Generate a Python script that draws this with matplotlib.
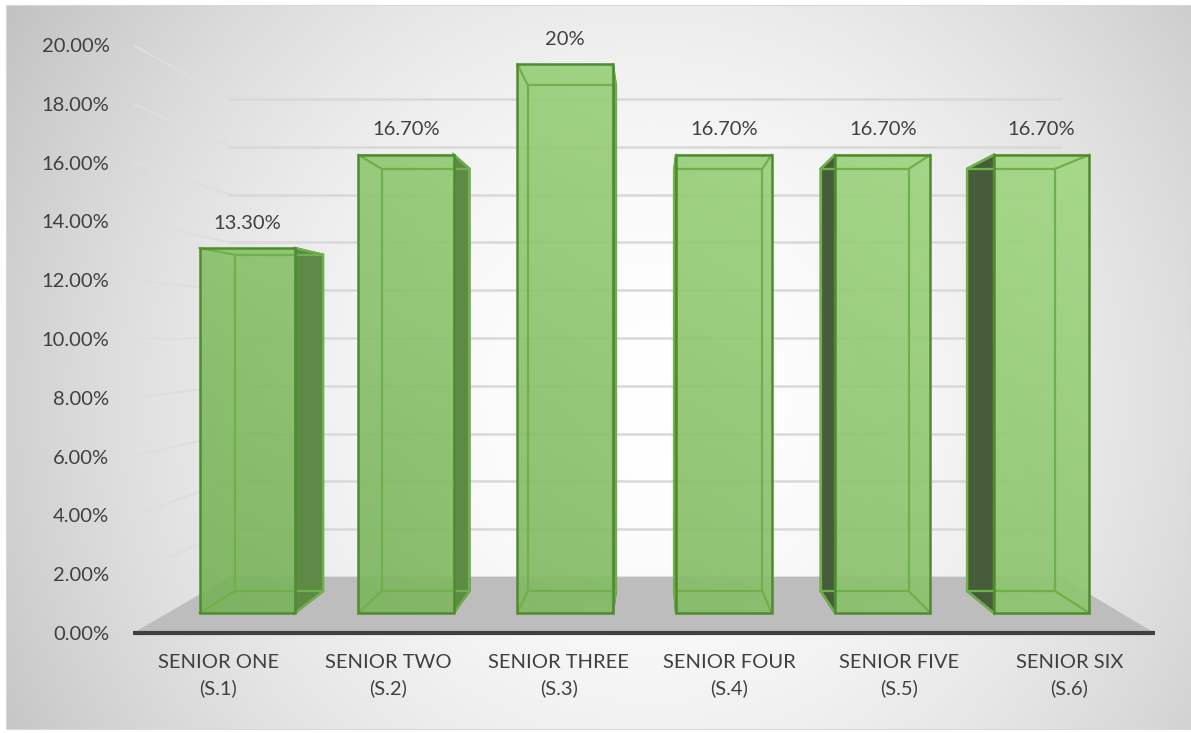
import numpy as np
import matplotlib.pyplot as plt
from matplotlib.patches import Polygon

categories = ["SENIOR ONE\n(S.1)", "SENIOR TWO\n(S.2)", "SENIOR THREE\n(S.3)",
              "SENIOR FOUR\n(S.4)", "SENIOR FIVE\n(S.5)", "SENIOR SIX\n(S.6)"]
shares = [13.3, 16.7, 20.0, 16.7, 16.7, 16.7]
share_labels = ["13.30%", "16.70%", "20%", "16.70%", "16.70%", "16.70%"]
y_ticks = [0, 2, 4, 6, 8, 10, 12, 14, 16, 18, 20]

W, H = 1191, 733
plt.rcParams['font.family'] = ['Lato', 'DejaVu Sans']

# perspective: everything recedes towards a vanishing point (data units)
VX, VY = 3.054, 10.19
R_WALL, R_FRONT, R_BACK = 0.813, 0.933, 0.86
BAR_W = 0.6
TEXT = '#404040'
OUTLINE = '#4e8c2f'
INNER = '#6fb04a'
FS = 14.5


def proj(x, y, r):
    return VX + (x - VX) * r, VY + (y - VY) * r


def face_shade(l, r, b, t):
    # lighter towards the upper right, like the lit 3-D faces in Excel
    xs = np.linspace(l, r, 24)
    ys = np.linspace(b, t, 120)
    gx, gy = np.meshgrid(xs, ys)
    u = np.clip(0.5 * gx / 6 + 0.5 * gy / 20, 0, 1)[..., None]
    dark = np.array([118, 176, 88]) / 255
    light = np.array([168, 221, 136]) / 255
    rgb = dark + (light - dark) * u
    alpha = np.full(gx.shape + (1,), 0.92)
    return np.concatenate([rgb, alpha], axis=2)


fig = plt.figure(figsize=(W / 100, H / 100), dpi=100)

# radial grey background of the chart area
bg = fig.add_axes([6 / W, 4 / H, 1185 / W, 724 / H])
yy, xx = np.mgrid[0:724, 0:1185]
dist = np.hypot(xx + 6 - 650, yy + 5 - 400) / 770
shade = np.clip(1 - 0.25 * dist ** 1.8, 0, 1)
bg.imshow(np.dstack([shade] * 3), aspect='auto', interpolation='bilinear')
bg.set_xticks([])
bg.set_yticks([])
for s in bg.spines.values():
    s.set_color('#d9d9d9')

ax = fig.add_axes([133 / W, 1 - 633 / H, 1021.6 / W, 588 / H])
ax.patch.set_visible(False)
for s in ax.spines.values():
    s.set_visible(False)

# side wall and back wall gridlines
for t in y_ticks:
    xa, ya = proj(0, t, 1)
    xb, yb = proj(0, t, R_WALL)
    xc, yc = proj(6, t, R_WALL)
    ax.plot([xa, xb], [ya, yb], color='#dedede', lw=1.3, zorder=1)
    ax.plot([xb, xc], [yb, yc], color='#d9d9d9', lw=1.8, zorder=1)

# floor and front axis line
floor = [proj(0, 0, 1), proj(6, 0, 1), proj(6, 0, R_WALL), proj(0, 0, R_WALL)]
ax.add_patch(Polygon(floor, closed=True, fc='#bdbdbd', ec='none', zorder=2))
ax.plot([0, 6], [0, 0], color=TEXT, lw=3, zorder=3, solid_capstyle='butt',
        clip_on=False)

centers = np.arange(len(shares)) + 0.5
front_x = [proj(c, 0, R_FRONT)[0] for c in centers]
front_bottom = proj(0, 0, R_FRONT)[1]
front_top = [proj(0, v, R_FRONT)[1] for v in shares]
front_w = BAR_W * R_FRONT

for i, v in enumerate(shares):
    x0, x1 = centers[i] - BAR_W / 2, centers[i] + BAR_W / 2
    # visible side face depends on which side of the vanishing point the bar is
    if x1 < VX:
        xs, col = x1, '#5e8a48'
    elif x0 > VX:
        xs, col = x0, '#475c3b'
    else:
        xs = None
    if xs is not None:
        side = [proj(xs, 0, R_FRONT), proj(xs, v, R_FRONT),
                proj(xs, v, R_BACK), proj(xs, 0, R_BACK)]
        ax.add_patch(Polygon(side, closed=True, fc=col, ec=OUTLINE, lw=1.8,
                             zorder=4, clip_on=False))

    l, r = front_x[i] - front_w / 2, front_x[i] + front_w / 2
    ax.imshow(face_shade(l, r, front_bottom, front_top[i]), origin='lower',
              extent=[l, r, front_bottom, front_top[i]], aspect='auto',
              interpolation='bilinear', zorder=5)

    # hidden edges seen through the translucent bar
    back = [proj(x0, 0, R_BACK), proj(x1, 0, R_BACK),
            proj(x1, v, R_BACK), proj(x0, v, R_BACK)]
    front = [proj(x0, 0, R_FRONT), proj(x1, 0, R_FRONT),
             proj(x1, v, R_FRONT), proj(x0, v, R_FRONT)]
    bx, by = zip(*(back + back[:1]))
    ax.plot(bx, by, color=INNER, lw=1.6, zorder=6, clip_on=False)
    for p, q in zip(front, back):
        ax.plot([p[0], q[0]], [p[1], q[1]], color=INNER, lw=1.6, zorder=6,
                clip_on=False)

ax.bar(front_x, np.array(front_top) - front_bottom, front_w, bottom=front_bottom,
       facecolor='none', edgecolor=OUTLINE, linewidth=1.8, zorder=7)

for x, t, lab in zip(front_x, front_top, share_labels):
    ax.annotate(lab, xy=(x, t), xytext=(0, 18), textcoords='offset points',
                ha='center', va='center', fontsize=FS, color=TEXT,
                annotation_clip=False, zorder=8)

ax.set_xticks(centers)
ax.set_xticklabels(categories)
for lbl in ax.get_xticklabels():
    lbl.set_linespacing(1.55)
ax.tick_params(axis='x', length=0, pad=15, labelsize=FS, labelcolor=TEXT)
ax.set_yticks(y_ticks)
ax.set_yticklabels([f"{t:.2f}%" for t in y_ticks])
ax.tick_params(axis='y', length=0, pad=17, labelsize=FS, labelcolor=TEXT)

ax.set_xlim(0, 6)
ax.set_ylim(0, 20)

fig.savefig('out.png', dpi=100)
